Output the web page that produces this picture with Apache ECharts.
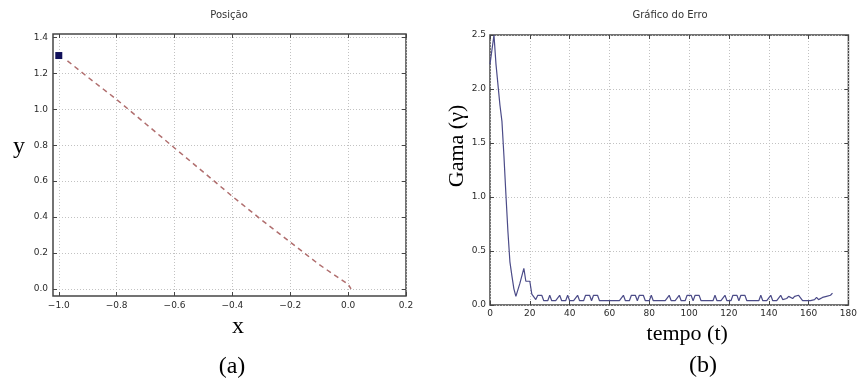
<!DOCTYPE html>
<html>
<head>
<meta charset="utf-8">
<script src="https://cdn.jsdelivr.net/npm/echarts@6/dist/echarts.min.js"></script>
<style>
  html, body { margin: 0; padding: 0; background: #fff; }
  #chart { width: 860px; height: 385px; }
</style>
</head>
<body>
<div id="chart"></div>
<script>
// (a) Posição
const posX = [-0.97, -0.9, -0.8, -0.7, -0.6, -0.5, -0.4, -0.3, -0.2, -0.1, 0.0, 0.01];
const posY = [1.27, 1.18, 1.055, 0.92, 0.785, 0.65, 0.515, 0.385, 0.26, 0.135, 0.025, 0.0];
const startPoint = [-1.0, 1.3];
const posXTicks = [-1.0, -0.8, -0.6, -0.4, -0.2, 0.0, 0.2];
const posYTicks = [0.0, 0.2, 0.4, 0.6, 0.8, 1.0, 1.2, 1.4];

// (b) Gráfico do Erro, one value per time step t = 0, 1, 2, ...
const gamma = [
  2.23, 2.23, 2.5, 2.23, 2.23, 1.85, 1.70, 1.38, 1.02, 0.68,
  0.40, 0.27, 0.15, 0.08, 0.08, 0.20, 0.21, 0.34, 0.22, 0.22,
  0.22, 0.10, 0.09, 0.05, 0.09, 0.09, 0.09, 0.04, 0.04, 0.04,
  0.09, 0.04, 0.04, 0.04, 0.04, 0.09, 0.04, 0.04, 0.04, 0.09,
  0.04, 0.04, 0.04, 0.04, 0.09, 0.04, 0.04, 0.04, 0.09, 0.09,
  0.09, 0.04, 0.09, 0.09, 0.09, 0.04, 0.04, 0.04, 0.04, 0.04,
  0.04, 0.04, 0.04, 0.04, 0.04, 0.04, 0.04, 0.09, 0.04, 0.04,
  0.04, 0.09, 0.09, 0.09, 0.04, 0.09, 0.09, 0.09, 0.04, 0.04,
  0.04, 0.09, 0.04, 0.04, 0.04, 0.04, 0.04, 0.04, 0.04, 0.04,
  0.09, 0.04, 0.04, 0.04, 0.04, 0.09, 0.04, 0.04, 0.04, 0.09,
  0.09, 0.09, 0.04, 0.09, 0.09, 0.09, 0.04, 0.04, 0.04, 0.04,
  0.04, 0.04, 0.04, 0.09, 0.04, 0.04, 0.04, 0.04, 0.09, 0.04,
  0.04, 0.04, 0.09, 0.09, 0.09, 0.04, 0.09, 0.09, 0.09, 0.04,
  0.04, 0.04, 0.04, 0.04, 0.04, 0.04, 0.09, 0.04, 0.04, 0.04,
  0.04, 0.09, 0.04, 0.04, 0.04, 0.04, 0.09, 0.05, 0.06, 0.06,
  0.08, 0.08, 0.06, 0.08, 0.09, 0.09, 0.09, 0.04, 0.04, 0.04,
  0.04, 0.04, 0.05, 0.05, 0.07, 0.05, 0.06, 0.07, 0.06, 0.08,
  0.07, 0.09, 0.11
];

const frameColor = "#454545";
const tickFont = { fontFamily: "DejaVu Sans", fontSize: 9, color: "#2a2a2a" };
const serif = "Liberation Serif";

function fmt(v) {
  return v.toFixed(1).replace("-", "\u2212");
}

function ticks(values) {
  const t = { inside: true, length: 4, lineStyle: { color: frameColor } };
  if (values) t.customValues = values;
  return t;
}

// main axis with labels, dotted grid lines and inward ticks
function mainAxis(opts) {
  return Object.assign(
    {
      type: "value",
      axisLine: { show: false, onZero: false },
      axisTick: ticks(),
      axisLabel: Object.assign({ margin: 5 }, tickFont),
      splitLine: {
        show: true,
        lineStyle: { color: "#c2c2c2", width: 1, type: [1, 2] },
      },
    },
    opts
  );
}

// mirrored axis on the opposite side: ticks only
function mirrorAxis(opts) {
  return Object.assign(
    {
      type: "value",
      axisLine: { show: false, onZero: false },
      axisLabel: { show: false },
      splitLine: { show: false },
    },
    opts
  );
}

function label(text, x, y, font, color) {
  return {
    type: "text", x: x, y: y,
    style: {
      text: text, font: font, fill: color,
      align: "center", verticalAlign: "middle",
      textAlign: "center", textVerticalAlign: "middle",
    },
  };
}

const chart = echarts.init(document.getElementById("chart"));
chart.setOption({
  animation: false,
  backgroundColor: "#fff",
  grid: [
    { left: 53, top: 34, width: 353, height: 262, show: true, borderColor: frameColor, borderWidth: 1.5 },
    { left: 490, top: 35, width: 361, height: 270, show: true, borderColor: frameColor, borderWidth: 1.5 },
  ],
  xAxis: [
    mainAxis({
      gridIndex: 0, min: -1.02, max: 0.2,
      axisTick: ticks(posXTicks),
      axisLabel: Object.assign({ margin: 5, customValues: posXTicks, formatter: fmt }, tickFont),
      name: "x", nameLocation: "middle", nameGap: 10,
      nameTextStyle: { fontFamily: serif, fontSize: 24, color: "#000", padding: [0, 0, 0, 17] },
    }),
    mainAxis({
      gridIndex: 1, min: 0, max: 180, interval: 20,
      axisLabel: Object.assign({ margin: 4 }, tickFont),
      name: "tempo (t)", nameLocation: "middle", nameGap: 12,
      nameTextStyle: { fontFamily: serif, fontSize: 22, color: "#000", padding: [0, 0, 0, 36] },
    }),
    mirrorAxis({
      gridIndex: 0, position: "top", min: -1.02, max: 0.2,
      axisTick: ticks(posXTicks),
    }),
    mirrorAxis({
      gridIndex: 1, position: "top", min: 0, max: 180, interval: 20,
      axisTick: ticks(),
    }),
  ],
  yAxis: [
    mainAxis({
      gridIndex: 0, min: -0.04, max: 1.42,
      axisTick: ticks(posYTicks),
      axisLabel: Object.assign({ margin: 5, customValues: posYTicks, formatter: fmt }, tickFont),
    }),
    mainAxis({
      gridIndex: 1, min: 0, max: 2.5, interval: 0.5,
      axisLabel: Object.assign({ margin: 4, formatter: fmt }, tickFont),
      name: "Gama (\u03b3)", nameLocation: "middle", nameGap: 21,
      nameTextStyle: { fontFamily: serif, fontSize: 22, color: "#000", padding: [0, 0, 0, 48] },
    }),
    mirrorAxis({
      gridIndex: 0, position: "right", min: -0.04, max: 1.42,
      axisTick: ticks(posYTicks),
    }),
    mirrorAxis({
      gridIndex: 1, position: "right", min: 0, max: 2.5, interval: 0.5,
      axisTick: ticks(),
    }),
  ],
  graphic: [
    label("Posição", 229, 15, "10px 'DejaVu Sans'", "#333"),
    label("Gráfico do Erro", 670, 15, "10px 'DejaVu Sans'", "#333"),
    label("y", 19, 147, "24px 'Liberation Serif'", "#000"),
    label("(a)", 232, 367, "24px 'Liberation Serif'", "#000"),
    label("(b)", 703, 366, "24px 'Liberation Serif'", "#000"),
  ],
  series: [
    {
      type: "line",
      xAxisIndex: 0,
      yAxisIndex: 0,
      data: posX.map((x, i) => [x, posY[i]]),
      showSymbol: false,
      lineStyle: { color: "#b06e6e", width: 1.5, type: [5, 4] },
    },
    {
      type: "scatter",
      xAxisIndex: 0,
      yAxisIndex: 0,
      data: [startPoint],
      symbol: "rect",
      symbolSize: 7,
      itemStyle: { color: "#10105a", opacity: 1 },
    },
    {
      type: "line",
      xAxisIndex: 1,
      yAxisIndex: 1,
      data: gamma.map((v, t) => [t, v]),
      showSymbol: false,
      lineStyle: { color: "#4b4b88", width: 1.2 },
    },
  ],
});
</script>
</body>
</html>
